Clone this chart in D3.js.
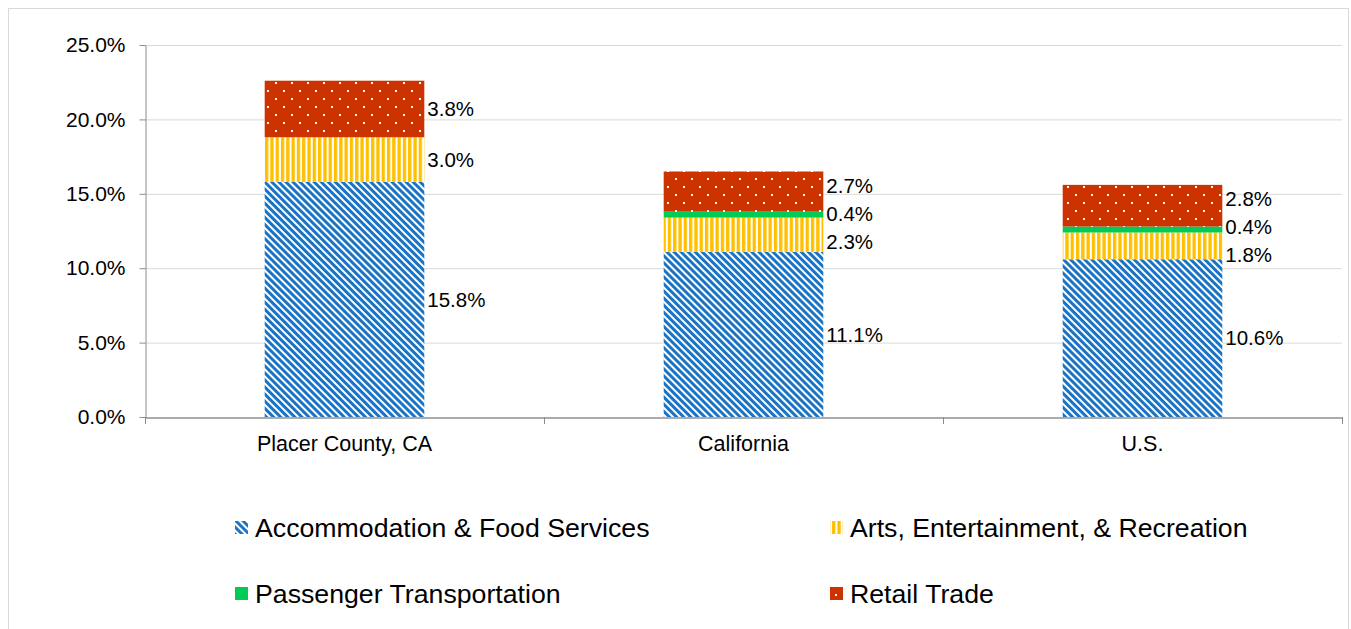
<!DOCTYPE html>
<html><head><meta charset="utf-8">
<script src="https://cdn.jsdelivr.net/npm/d3@7"></script>
<style>body{margin:0;background:#fff}svg{display:block;font-family:"Liberation Sans",Arial,sans-serif}</style>
</head><body>
<svg id="c" width="1351" height="629"></svg>
<script>
const categories = ["Placer County, CA", "California", "U.S."];
const seriesNames = ["Accommodation & Food Services", "Arts, Entertainment, & Recreation", "Passenger Transportation", "Retail Trade"];
const accommodation = [15.8, 11.1, 10.6];
const arts = [3.0, 2.3, 1.8];
const passenger = [0.0, 0.4, 0.4];
const retail = [3.8, 2.7, 2.8];
const yTicks = [0, 5, 10, 15, 20, 25];

const seriesValues = [accommodation, arts, passenger, retail];
const fills = ["url(#pBlue)", "url(#pYellow)", "#00CC55", "url(#pRed)"];

const svg = d3.select("#c");
const defs = svg.append("defs");
// blue diagonal stripes (downward diagonal)
const pb = defs.append("pattern").attr("id","pBlue").attr("patternUnits","userSpaceOnUse")
  .attr("width",5).attr("height",5).attr("patternTransform","rotate(45)");
pb.append("rect").attr("width",5).attr("height",5).attr("fill","#fff");
pb.append("rect").attr("width",5).attr("height",3).attr("fill","#1a74c6");
// yellow vertical stripes
const py = defs.append("pattern").attr("id","pYellow").attr("patternUnits","userSpaceOnUse")
  .attr("width",5.3).attr("height",10);
py.append("rect").attr("width",5.3).attr("height",10).attr("fill","#fff");
py.append("rect").attr("width",3.3).attr("height",10).attr("fill","#FFC000");
// red dotted
const pr = defs.append("pattern").attr("id","pRed").attr("patternUnits","userSpaceOnUse")
  .attr("width",16).attr("height",16).attr("x",3).attr("y",2);
pr.append("rect").attr("width",16).attr("height",16).attr("fill","#CC3300");
pr.append("rect").attr("x",0).attr("y",0).attr("width",2).attr("height",2).attr("fill","#fff");
pr.append("rect").attr("x",8).attr("y",8).attr("width",2).attr("height",2).attr("fill","#fff");

// border
svg.append("rect").attr("x",8.5).attr("y",8.5).attr("width",1340).attr("height",640)
  .attr("fill","none").attr("stroke","#d9d9d9");

const x = d3.scaleBand().domain(categories).range([145, 1342]).paddingInner(0).paddingOuter(0);
const y = d3.scaleLinear().domain([0, 25]).range([417, 45]);
const barW = x.bandwidth() * 0.4;

// gridlines
svg.append("g").selectAll("line").data(yTicks.filter(d=>d>0)).join("line")
  .attr("x1",145).attr("x2",1342).attr("y1",d=>y(d)+0.5).attr("y2",d=>y(d)+0.5)
  .attr("stroke","#d9d9d9").attr("stroke-width",1);

// y axis
const ya = svg.append("g").attr("transform","translate(145.5,0)")
  .call(d3.axisLeft(y).tickValues(yTicks).tickFormat(d=>d.toFixed(1)+"%").tickSize(6).tickSizeOuter(0));
ya.select(".domain").attr("stroke","#8c8c8c");
ya.selectAll(".tick line").attr("stroke","#8c8c8c");
ya.selectAll(".tick text").attr("font-size",21).attr("fill","#000").attr("x",-20)
  .attr("font-family","Liberation Sans, Arial, sans-serif");

// stacks
const rows = categories.map((c,i)=>{const o={cat:c}; seriesNames.forEach((s,k)=>o[s]=seriesValues[k][i]); return o;});
const stack = d3.stack().keys(seriesNames)(rows);
stack.forEach((layer,k)=>{
  svg.append("g").selectAll("rect").data(layer).join("rect")
    .attr("x",d=>x(d.data.cat)+(x.bandwidth()-barW)/2)
    .attr("width",barW)
    .attr("y",d=>y(d[1]))
    .attr("height",d=>y(d[0])-y(d[1]))
    .attr("fill",fills[k]);
});

// x axis
const xa = svg.append("g").attr("transform","translate(0,417.5)")
  .call(d3.axisBottom(x).tickSize(0).tickSizeOuter(0));
xa.select(".domain").attr("stroke","#595959");
xa.selectAll(".tick text").attr("font-size",21.5).attr("fill","#000").attr("dy",0).attr("y",33)
  .attr("font-family","Liberation Sans, Arial, sans-serif");
const bounds = [145, ...categories.map(c=>x(c)+x.bandwidth())];
svg.append("g").selectAll("line").data(bounds).join("line")
  .attr("x1",d=>Math.round(d)+0.5).attr("x2",d=>Math.round(d)+0.5)
  .attr("y1",417).attr("y2",424).attr("stroke","#8c8c8c");

// labels with simple collision avoidance
categories.forEach((c,i)=>{
  const labs = [];
  stack.forEach((layer,k)=>{
    const d = layer[i]; const v = seriesValues[k][i];
    if (v > 0) labs.push({v, yc:(y(d[0])+y(d[1]))/2});
  });
  labs.sort((a,b)=>b.yc-a.yc);
  const gap = 28;
  for (let it=0; it<100; it++){
    for (let j=0;j<labs.length-1;j++){
      const a=labs[j], b=labs[j+1];
      const ov = gap - (a.yc - b.yc);
      if (ov>0){ a.yc += ov/2; b.yc -= ov/2; }
    }
  }
  svg.append("g").selectAll("text").data(labs).join("text")
    .attr("x", x(c)+(x.bandwidth()+barW)/2 + 3)
    .attr("y", d=>d.yc).attr("dy","0.35em")
    .attr("font-size",20.5).attr("fill","#000")
    .text(d=>d.v.toFixed(1)+"%");
});

// legend
const legPos = [[235,528],[830,528],[235,594],[830,594]];
const lg = svg.append("g");
seriesNames.forEach((s,k)=>{
  const [lx,ly] = legPos[k];
  lg.append("rect").attr("x",lx).attr("y",ly-7).attr("width",13).attr("height",13).attr("fill",fills[k]);
  lg.append("text").attr("x",lx+20).attr("y",ly).attr("dy","0.35em")
    .attr("font-size",26.7).attr("fill","#000").text(s);
});
</script>
</body></html>
